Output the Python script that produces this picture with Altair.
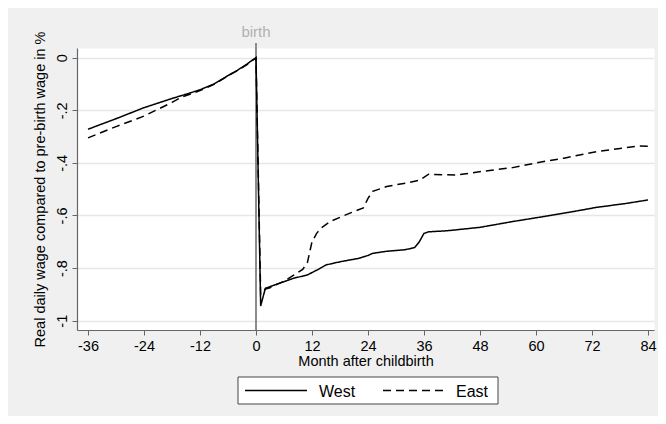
import altair as alt
import pandas as pd

# ---- data ----
west_months = [-36, -30, -24, -18, -15, -12, -9, -6, -4, -2, -1, 0,
               1, 2, 4, 8, 11, 13, 15, 18, 22, 24, 25, 28, 32, 34, 35, 36, 37,
               41, 48, 55, 62, 68, 73, 79, 84]
west_values = [-0.272, -0.232, -0.190, -0.155, -0.139, -0.122, -0.100, -0.068, -0.048, -0.025, -0.012, 0.0,
               -0.944, -0.877, -0.864, -0.839, -0.826, -0.808, -0.788, -0.776, -0.763, -0.752, -0.744,
               -0.736, -0.730, -0.722, -0.700, -0.668, -0.662,
               -0.658, -0.645, -0.623, -0.603, -0.585, -0.569, -0.555, -0.541]

east_months = [-36, -30, -24, -18, -16, -14, -12, -9, -6, -4, -2, -1, 0,
               1, 2, 3, 4, 6, 8, 10, 11, 12, 13, 14, 16, 20, 23, 24, 25, 28, 32, 35, 37,
               40, 43, 49, 55, 60, 66, 73, 78, 82, 84]
east_values = [-0.305, -0.262, -0.222, -0.170, -0.150, -0.138, -0.125, -0.101, -0.069, -0.049, -0.027, -0.014, 0.0,
               -0.900, -0.880, -0.875, -0.866, -0.850, -0.828, -0.805, -0.780, -0.700, -0.668, -0.647,
               -0.622, -0.592, -0.571, -0.535, -0.508, -0.490, -0.477, -0.466, -0.443,
               -0.445, -0.446, -0.431, -0.418, -0.400, -0.382, -0.357, -0.345, -0.336, -0.337]

series_names = ["West", "East"]
x_ticks = [-36, -24, -12, 0, 12, 24, 36, 48, 60, 72, 84]
y_ticks = [0, -0.2, -0.4, -0.6, -0.8, -1]
marker_month = [0]
marker_label = ["birth"]

rows = []
for m, v in zip(west_months, west_values):
    rows.append({"month": m, "value": v, "series": "West"})
for m, v in zip(east_months, east_values):
    rows.append({"month": m, "value": v, "series": "East"})
df = pd.DataFrame(rows)
marker_df = pd.DataFrame({"month": marker_month, "label": marker_label})
legend_df = pd.DataFrame({"series": series_names})

FONT = "Liberation Sans"
W, H = 577, 282

xscale = alt.Scale(domain=[-38.36, 85.29], nice=False, zero=False)
yscale = alt.Scale(domain=[-1.0354, 0.0369], nice=False, zero=False)
dash_scale = alt.Scale(domain=series_names, range=[[1, 0], [8, 5]])

x_axis = alt.Axis(values=x_ticks, labelExpr="'' + datum.value", title="Month after childbirth",
                  grid=False, tickSize=5, labelPadding=4, titlePadding=2)
y_axis = alt.Axis(values=y_ticks, labelExpr="replace('' + datum.value, '0.', '.')",
                  title="Real daily wage compared to pre-birth wage in %",
                  grid=True, tickSize=5, labelAngle=-90, labelAlign="center",
                  labelBaseline="bottom", labelPadding=3, titlePadding=7)

rule = alt.Chart(marker_df).mark_rule(color="#8c8c8c", strokeWidth=2).encode(
    x=alt.X("month:Q", scale=xscale),
    y=alt.value(-5),
    y2=alt.value(H),
)

label = alt.Chart(marker_df).mark_text(color="#b0b0b0", fontSize=15, font=FONT).encode(
    x=alt.X("month:Q", scale=xscale),
    y=alt.value(-16),
    text="label:N",
)

lines = alt.Chart(df).mark_line(color="black", strokeWidth=1.5).encode(
    x=alt.X("month:Q", scale=xscale, axis=x_axis),
    y=alt.Y("value:Q", scale=yscale, axis=y_axis),
    strokeDash=alt.StrokeDash("series:N", scale=dash_scale, legend=None),
)

# ---- hand-built legend box below the plot ----
LX, LY, LW, LH = 161, 329, 260, 27
legend_box = alt.Chart(legend_df).transform_filter(alt.datum.series == "West").mark_rect(
    fill="white", stroke="#444444", strokeWidth=1
).encode(
    x=alt.value(LX), x2=alt.value(LX + LW), y=alt.value(LY), y2=alt.value(LY + LH)
)

entry_pos = {"West": (168, 230, 242), "East": (306, 369, 379)}
legend_layers = [legend_box]
for name in series_names:
    x0, x1, xt = entry_pos[name]
    sym = alt.Chart(legend_df).transform_filter(alt.datum.series == name).mark_rule(
        color="black", strokeWidth=1.5
    ).encode(
        x=alt.value(x0), x2=alt.value(x1), y=alt.value(LY + LH / 2),
        strokeDash=alt.StrokeDash("series:N", scale=dash_scale, legend=None),
    )
    txt = alt.Chart(legend_df).transform_filter(alt.datum.series == name).mark_text(
        align="left", baseline="middle", fontSize=16, font=FONT, color="black"
    ).encode(
        x=alt.value(xt), y=alt.value(LY + LH / 2 + 1), text="series:N"
    )
    legend_layers += [sym, txt]

chart = alt.layer(rule, lines, label, *legend_layers).properties(
    width=W, height=H,
    autosize=alt.AutoSizeParams(type="none"),
    padding={"left": 69, "top": 40, "right": 4, "bottom": 86},
    background="#f0f0f0",
).configure_view(
    fill="white", stroke="transparent"
).configure_axis(
    labelFont=FONT, titleFont=FONT, labelFontSize=14.5, titleFontSize=14.5,
    titleFontWeight="normal", labelColor="black", titleColor="black",
    domainColor="#666666", tickColor="#666666", gridColor="#e6e6e6", gridWidth=1.5,
    domainWidth=1.2,
)

chart.save("out.html", embed_options={"renderer": "svg", "actions": False})
